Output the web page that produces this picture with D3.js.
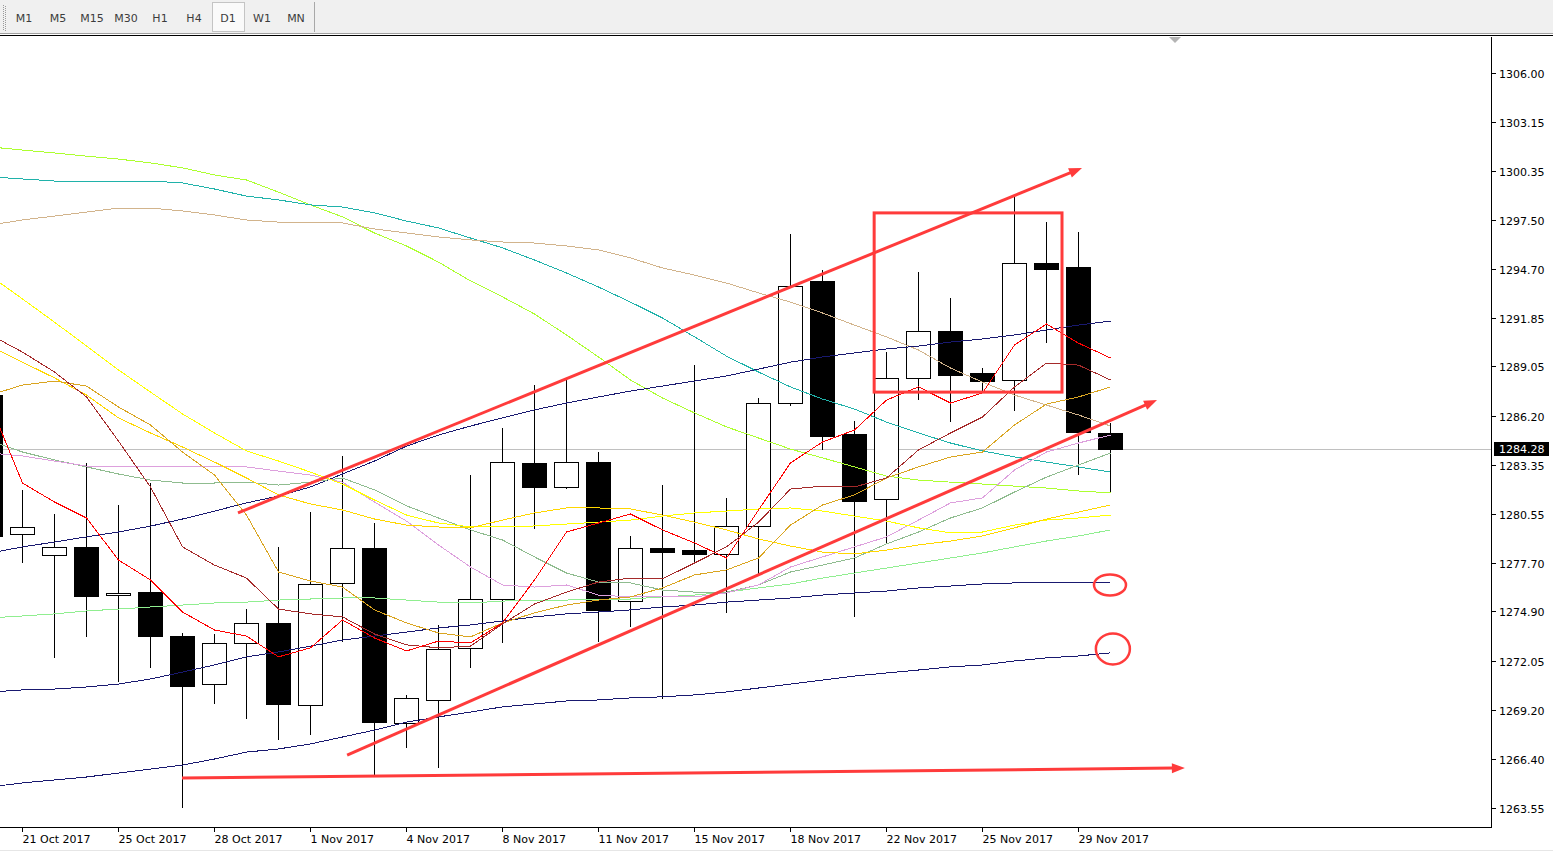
<!DOCTYPE html>
<html><head><meta charset="utf-8">
<script src="https://cdn.jsdelivr.net/npm/d3@7"></script>
<style>
html,body{margin:0;padding:0;background:#fff;overflow:hidden}
svg{display:block}
text{font-family:"DejaVu Sans",Verdana,sans-serif}
</style></head><body>
<svg id="c" width="1553" height="852"></svg>
<script>
// ---------------- data ----------------
const timeframes = ["M1","M5","M15","M30","H1","H4","D1","W1","MN"];
const activeTimeframe = "D1";
const dates = ["20 Oct 2017","21 Oct 2017","23 Oct 2017","24 Oct 2017","25 Oct 2017","26 Oct 2017","27 Oct 2017","28 Oct 2017","30 Oct 2017","31 Oct 2017","1 Nov 2017","2 Nov 2017","3 Nov 2017","4 Nov 2017","6 Nov 2017","7 Nov 2017","8 Nov 2017","9 Nov 2017","10 Nov 2017","11 Nov 2017","13 Nov 2017","14 Nov 2017","15 Nov 2017","16 Nov 2017","17 Nov 2017","18 Nov 2017","20 Nov 2017","21 Nov 2017","22 Nov 2017","23 Nov 2017","24 Nov 2017","25 Nov 2017","27 Nov 2017","28 Nov 2017","29 Nov 2017","30 Nov 2017"];
const dateLabels = ["21 Oct 2017","25 Oct 2017","28 Oct 2017","1 Nov 2017","4 Nov 2017","8 Nov 2017","11 Nov 2017","15 Nov 2017","18 Nov 2017","22 Nov 2017","25 Nov 2017","29 Nov 2017"];
const open  = [1287.40,1279.38,1278.16,1278.63,1275.85,1276.02,1273.48,1270.71,1273.08,1274.24,1269.50,1276.55,1278.57,1268.46,1269.79,1272.80,1275.62,1283.48,1282.09,1283.53,1275.50,1278.57,1278.45,1278.22,1279.84,1286.94,1293.99,1285.15,1281.40,1288.39,1291.10,1288.67,1288.27,1295.03,1294.80,1285.21];
const high  = [1287.98,1281.92,1280.53,1283.48,1281.05,1282.32,1273.66,1273.60,1275.04,1278.63,1280.64,1283.88,1280.01,1270.08,1274.12,1282.78,1285.50,1287.98,1288.27,1284.11,1279.26,1282.20,1289.13,1281.46,1287.23,1296.70,1294.62,1285.90,1289.88,1294.50,1293.01,1288.96,1298.95,1297.39,1296.81,1285.79];
const low   = [1279.03,1277.75,1272.28,1273.48,1270.88,1271.70,1263.61,1269.62,1268.75,1267.54,1267.82,1273.19,1265.39,1267.08,1265.92,1271.70,1273.13,1279.73,1282.03,1273.19,1274.06,1269.91,1277.70,1274.87,1277.13,1286.82,1284.28,1274.64,1278.86,1287.17,1285.90,1287.63,1286.54,1290.46,1282.84,1281.80];
const close = [1279.26,1279.78,1278.63,1275.79,1275.97,1273.48,1270.59,1273.08,1274.24,1269.56,1276.49,1278.57,1268.51,1269.91,1272.74,1275.62,1283.53,1282.09,1283.53,1274.99,1278.57,1278.33,1278.22,1279.84,1286.94,1293.70,1285.03,1281.28,1288.39,1291.10,1288.56,1288.21,1295.03,1294.68,1285.27,1284.28];

const maRed       = [1286.82,1282.32,1281.22,1280.30,1277.87,1276.72,1274.87,1273.83,1273.48,1272.28,1272.80,1274.41,1273.37,1272.62,1273.19,1273.08,1274.24,1276.72,1279.49,1280.01,1280.53,1279.61,1278.86,1277.99,1280.76,1283.48,1284.69,1285.38,1287.11,1287.87,1286.94,1287.52,1290.29,1291.50,1290.40,1289.54];
const maBrown     = [1290.87,1289.88,1288.73,1287.29,1284.74,1282.09,1278.63,1277.58,1276.83,1275.04,1274.76,1274.59,1273.60,1272.97,1272.80,1272.90,1274.18,1275.33,1276.02,1276.60,1276.83,1276.78,1277.70,1278.63,1280.06,1281.97,1282.14,1282.09,1282.61,1284.23,1285.21,1286.13,1287.87,1289.25,1289.13,1288.27];
const maGoldenrod = [1287.40,1287.98,1288.21,1287.92,1286.71,1285.67,1284.11,1282.78,1280.47,1277.18,1276.66,1276.31,1274.99,1274.24,1273.66,1273.43,1274.24,1274.82,1275.27,1275.56,1275.74,1276.26,1277.01,1277.30,1277.99,1279.89,1281.05,1281.63,1282.61,1283.25,1283.82,1284.11,1285.67,1286.88,1287.29,1287.87];
const maGold      = [1290.23,1289.30,1288.39,1287.40,1286.08,1285.21,1284.40,1283.53,1282.61,1281.63,1281.11,1280.76,1280.24,1279.89,1279.78,1279.73,1280.18,1280.59,1280.88,1280.88,1280.82,1280.47,1280.06,1279.61,1279.09,1278.68,1278.33,1278.22,1278.45,1278.74,1278.97,1279.26,1279.73,1280.24,1280.64,1281.05];
const maYellow    = [1294.27,1292.95,1291.61,1290.23,1288.85,1287.57,1286.31,1285.21,1284.17,1283.59,1282.95,1282.26,1281.34,1280.47,1280.01,1279.78,1279.78,1279.84,1279.95,1280.06,1280.18,1280.41,1280.59,1280.70,1280.82,1280.88,1280.70,1280.41,1280.12,1279.73,1279.44,1279.49,1279.89,1280.18,1280.30,1280.47];
const maPlum      = [1284.05,1283.88,1283.59,1283.30,1283.30,1283.30,1283.25,1283.25,1283.25,1283.01,1282.78,1282.37,1281.22,1280.12,1278.74,1277.47,1276.43,1276.31,1276.43,1275.85,1275.74,1275.79,1275.74,1275.97,1276.43,1277.47,1278.05,1278.63,1279.21,1280.18,1281.17,1281.46,1283.07,1284.11,1284.63,1285.09];
const maSeaGreen  = [1284.74,1284.11,1283.65,1283.25,1282.84,1282.49,1282.32,1282.32,1282.37,1282.20,1282.37,1282.61,1281.92,1281.00,1280.30,1279.61,1279.03,1278.05,1277.12,1276.60,1276.55,1276.14,1276.02,1276.02,1276.43,1277.18,1277.58,1277.99,1278.80,1279.49,1280.30,1280.88,1281.80,1282.66,1283.36,1284.05];
const maLightGreen= [1274.53,1274.64,1274.76,1274.93,1275.04,1275.16,1275.27,1275.39,1275.44,1275.56,1275.62,1275.68,1275.68,1275.56,1275.44,1275.39,1275.50,1275.56,1275.56,1275.62,1275.62,1275.74,1275.85,1276.02,1276.26,1276.49,1276.83,1277.12,1277.41,1277.70,1277.99,1278.28,1278.63,1278.97,1279.26,1279.61];
const maNavyFast  = [1278.28,1278.63,1278.91,1279.21,1279.49,1279.83,1280.24,1280.70,1281.17,1281.57,1282.09,1282.84,1283.59,1284.45,1285.09,1285.61,1286.08,1286.54,1286.94,1287.29,1287.63,1287.92,1288.21,1288.50,1288.90,1289.30,1289.60,1289.83,1290.06,1290.23,1290.46,1290.64,1290.87,1291.16,1291.44,1291.67];
const maNavyMid   = [1270.25,1270.37,1270.42,1270.54,1270.71,1271.00,1271.40,1271.81,1272.28,1272.56,1272.90,1273.25,1273.48,1273.71,1273.95,1274.12,1274.35,1274.59,1274.76,1274.87,1274.99,1275.16,1275.27,1275.44,1275.56,1275.68,1275.85,1275.97,1276.08,1276.26,1276.37,1276.49,1276.55,1276.55,1276.55,1276.60];
const maNavySlow  = [1264.77,1265.00,1265.17,1265.34,1265.57,1265.80,1266.03,1266.38,1266.78,1266.96,1267.25,1267.65,1268.05,1268.51,1268.81,1269.09,1269.39,1269.56,1269.73,1269.79,1269.91,1269.97,1270.08,1270.25,1270.48,1270.71,1270.94,1271.17,1271.35,1271.52,1271.70,1271.81,1272.04,1272.22,1272.33,1272.51];
const maTan       = [1297.22,1297.51,1297.74,1297.97,1298.20,1298.20,1298.03,1297.80,1297.51,1297.39,1297.34,1297.34,1296.99,1296.76,1296.53,1296.36,1296.24,1296.18,1296.01,1295.78,1295.32,1294.74,1294.33,1293.87,1293.30,1292.77,1292.14,1291.44,1290.76,1290.00,1288.96,1288.15,1287.40,1286.82,1286.25,1285.61];
const maTeal      = [1300.00,1299.88,1299.76,1299.76,1299.76,1299.76,1299.65,1299.30,1298.89,1298.67,1298.38,1298.26,1297.92,1297.45,1297.05,1296.47,1295.90,1295.20,1294.45,1293.64,1292.77,1291.85,1290.76,1289.65,1288.73,1287.87,1287.17,1286.59,1285.84,1285.21,1284.63,1284.17,1283.83,1283.53,1283.25,1282.95];
const maChartreuse= [1301.73,1301.55,1301.38,1301.20,1301.03,1300.81,1300.52,1300.11,1299.82,1299.12,1298.38,1297.69,1296.76,1296.01,1295.08,1293.99,1293.07,1292.08,1290.87,1289.60,1288.27,1287.23,1286.37,1285.56,1284.92,1284.28,1283.77,1283.25,1282.72,1282.49,1282.37,1282.26,1282.14,1282.03,1281.86,1281.75];

const priceTicks = [1306.00,1303.15,1300.35,1297.50,1294.70,1291.85,1289.05,1286.20,1283.35,1280.55,1277.70,1274.90,1272.05,1269.20,1266.40,1263.55];
const lastPrice = 1284.28;

// hand-drawn annotations (bar index, price)
const arrowFrom = [[7.75,1280.59],[11.16,1266.61],[6.0,1265.28]];
const arrowTo   = [[34.125,1300.52],[36.47,1287.11],[37.34,1265.86]];
const zoneIdx   = [27.63,33.5];
const zonePrice = [1297.92,1287.57];
const circleIdx   = [35,35.09];
const circlePrice = [1276.43,1272.74];

// ---------------- drawing ----------------
const W = 1553, H = 852;
const plotR = 1491, plotT = 37, plotB = 827;
const svg = d3.select("#c");

const x = d3.scaleLinear().domain([0, dates.length - 1]).range([-10, 1110]);
const y = d3.scaleLinear().domain([1263.55, 1306.00]).range([808, 73]);

// toolbar
const tb = svg.append("g");
tb.append("rect").attr("width", W).attr("height", 33).attr("fill", "#f0f0f0");
tb.append("line").attr("x1",0).attr("x2",W).attr("y1",33.5).attr("y2",33.5).attr("stroke","#a0a0a0");
tb.append("line").attr("x1",0).attr("x2",W).attr("y1",35.5).attr("y2",35.5).attr("stroke","#000");
d3.range(5, 30, 2).forEach(v => {
  tb.append("rect").attr("x",3).attr("y",v).attr("width",1).attr("height",1).attr("fill","#9a9a9a");
  tb.append("rect").attr("x",5).attr("y",v+1).attr("width",1).attr("height",1).attr("fill","#9a9a9a");
});
const tfx = i => 24 + 34 * i;
timeframes.forEach((t, i) => {
  if (t === activeTimeframe) {
    tb.append("rect").attr("x", tfx(i) - 15.5).attr("y", 2.5).attr("width", 32).attr("height", 29)
      .attr("fill", "#fafafa").attr("stroke", "#c4c4c4");
  }
  tb.append("text").attr("x", tfx(i)).attr("y", 21.5).attr("text-anchor","middle")
    .attr("font-size", 11).attr("fill", "#3c3c3c").text(t);
});
tb.append("line").attr("x1",314.5).attr("x2",314.5).attr("y1",2).attr("y2",32).attr("stroke","#a8a8a8");

// chart shift marker
svg.append("path").attr("d", "M1169,37 L1181,37 L1175,43 Z").attr("fill", "#b4b4b4");

// clip
svg.append("defs").append("clipPath").attr("id","clip")
  .append("rect").attr("x",0).attr("y",plotT).attr("width",plotR).attr("height",plotB - plotT);
const plot = svg.append("g").attr("clip-path","url(#clip)");

// bid line
plot.append("line").attr("x1",0).attr("x2",plotR).attr("y1",Math.round(y(lastPrice))+0.5)
  .attr("y2",Math.round(y(lastPrice))+0.5).attr("stroke","#c0c0c0");

// candles
const bars = d3.range(dates.length).map(i => ({i, o: open[i], h: high[i], l: low[i], c: close[i]}));
const cg = plot.append("g").attr("shape-rendering","crispEdges");
bars.forEach(b => {
  const cx = Math.round(x(b.i));
  cg.append("line").attr("x1", cx + 0.5).attr("x2", cx + 0.5)
    .attr("y1", Math.round(y(b.h))).attr("y2", Math.round(y(b.l)) + 1).attr("stroke", "#000");
  const top = Math.round(y(Math.max(b.o, b.c)));
  const bot = Math.round(y(Math.min(b.o, b.c)));
  if (b.c >= b.o) {
    cg.append("rect").attr("x", cx - 11.5).attr("y", top + 0.5).attr("width", 24)
      .attr("height", Math.max(bot - top, 1)).attr("fill", "#fff").attr("stroke", "#000");
  } else {
    cg.append("rect").attr("x", cx - 12).attr("y", top).attr("width", 25)
      .attr("height", Math.max(bot - top + 1, 2)).attr("fill", "#000");
  }
});

// moving averages
const maSeries = [
  [maChartreuse, "#adff2f"], [maTeal, "#20b2aa"], [maTan, "#d2b48c"],
  [maNavySlow, "#191970"], [maNavyMid, "#191970"], [maNavyFast, "#191970"],
  [maLightGreen, "#90ee90"], [maSeaGreen, "#8fbc8f"], [maPlum, "#dda0dd"],
  [maYellow, "#ffff00"], [maGold, "#ffd700"], [maGoldenrod, "#daa520"],
  [maBrown, "#a52a2a"], [maRed, "#ff0000"]
];
const line = d3.line().x((d, i) => x(i) + 0.5).y(d => y(d));
const mg = plot.append("g").attr("shape-rendering","crispEdges");
maSeries.forEach(([vals, col]) => {
  mg.append("path").attr("d", line(vals)).attr("fill","none").attr("stroke", col).attr("stroke-width", 1);
});

// annotations
const ann = plot.append("g");
const red = "#ff3b3b";
arrowFrom.forEach((f, k) => {
  const x1 = x(f[0]), y1 = y(f[1]), x2 = x(arrowTo[k][0]), y2 = y(arrowTo[k][1]);
  const a = Math.atan2(y2 - y1, x2 - x1), L = 13, hw = 5;
  const bx = x2 - L * Math.cos(a), by = y2 - L * Math.sin(a);
  ann.append("line").attr("x1", x1).attr("y1", y1).attr("x2", bx + 2*Math.cos(a)).attr("y2", by + 2*Math.sin(a))
    .attr("stroke", red).attr("stroke-width", 3);
  ann.append("path").attr("d",
    `M${x2},${y2}L${bx - hw*Math.sin(a)},${by + hw*Math.cos(a)}L${bx + hw*Math.sin(a)},${by - hw*Math.cos(a)}Z`)
    .attr("fill", red);
});
ann.append("rect").attr("x", x(zoneIdx[0])).attr("y", y(zonePrice[0]))
  .attr("width", x(zoneIdx[1]) - x(zoneIdx[0])).attr("height", y(zonePrice[1]) - y(zonePrice[0]))
  .attr("fill","none").attr("stroke", red).attr("stroke-width", 3);
const radii = [[16, 10.5], [17, 15.5]];
circleIdx.forEach((ci, k) => {
  ann.append("ellipse").attr("cx", x(ci)).attr("cy", y(circlePrice[k]))
    .attr("rx", radii[k][0]).attr("ry", radii[k][1]).attr("fill","none").attr("stroke", red).attr("stroke-width", 2.5);
});

// frame
svg.append("line").attr("x1", plotR + 0.5).attr("x2", plotR + 0.5).attr("y1", plotT).attr("y2", plotB + 1).attr("stroke","#000");
svg.append("line").attr("x1", 0).attr("x2", plotR + 1).attr("y1", plotB + 0.5).attr("y2", plotB + 0.5).attr("stroke","#000");

// price axis
const pa = svg.append("g");
priceTicks.forEach(p => {
  const yy = Math.round(y(p)) + 0.5;
  pa.append("line").attr("x1", plotR + 1).attr("x2", plotR + 5).attr("y1", yy).attr("y2", yy).attr("stroke","#000");
  pa.append("text").attr("x", 1499).attr("y", yy + 4).attr("font-size", 11).attr("fill","#000").text(p.toFixed(2));
});
const ly = Math.round(y(lastPrice));
pa.append("rect").attr("x", 1494).attr("y", ly - 7).attr("width", 55).attr("height", 14).attr("fill", "#000");
pa.append("text").attr("x", 1499).attr("y", ly + 4).attr("font-size", 11).attr("fill", "#fff").text(lastPrice.toFixed(2));

// time axis
const ta = svg.append("g");
dateLabels.forEach(lbl => {
  const i = dates.indexOf(lbl);
  const xx = Math.round(x(i)) + 0.5;
  ta.append("line").attr("x1", xx).attr("x2", xx).attr("y1", plotB + 1).attr("y2", plotB + 5).attr("stroke", "#000");
  ta.append("text").attr("x", xx).attr("y", 843).attr("font-size", 11).attr("fill", "#000").text(lbl);
});
svg.append("line").attr("x1",0).attr("x2",W).attr("y1",850.5).attr("y2",850.5).attr("stroke","#e6e6e6");
</script>
</body></html>
